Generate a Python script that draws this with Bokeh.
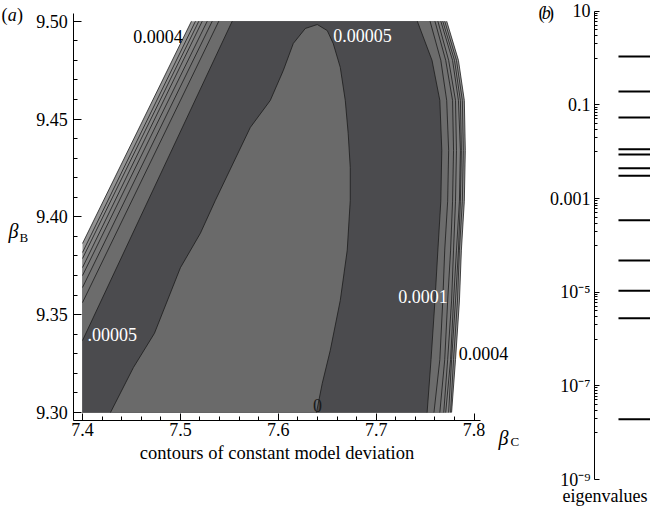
from bokeh.plotting import figure
from bokeh.models import (Range1d, FixedTicker, PrintfTickFormatter, CustomJSTickFormatter,
                          Label, LinearAxis, LogAxis, LogScale, Grid)
from bokeh.embed import file_html
from bokeh.resources import INLINE

FONT = "Liberation Serif"

# ---------------- data: panel (a) ----------------
X_MAJOR = [7.4, 7.5, 7.6, 7.7, 7.8]
Y_MAJOR = [9.30, 9.35, 9.40, 9.45, 9.50]
X_MINOR = [round(7.40 + 0.02 * i, 2) for i in range(21)]
Y_MINOR = [round(9.30 + 0.01 * i, 2) for i in range(21)]

DATA_X0 = 7.40
DATA_Y0 = 9.30
DATA_Y1 = 9.50

# left-hand contour lines (level 0 = boundary of dark band, 7 = outermost)
LEFT_EDGE_Y = [9.3368, 9.3562, 9.3639, 9.3700, 9.3741, 9.3787, 9.3818, 9.3864]
LEFT_TOP_X = [7.5529, 7.5392, 7.5325, 7.5274, 7.5223, 7.5188, 7.5154, 7.5113]

# right-hand contour lines, x at RIGHT_Y (bottom -> top)
RIGHT_Y = [9.300, 9.327, 9.357, 9.383, 9.408, 9.434, 9.4595, 9.480, 9.500]
R0 = [7.752, 7.756, 7.760, 7.763, 7.766, 7.767, 7.765, 7.757, 7.742]
R1 = [7.759, 7.765, 7.768, 7.770, 7.773, 7.774, 7.772, 7.766, 7.755]
R2 = [7.765, 7.770, 7.773, 7.776, 7.778, 7.779, 7.778, 7.771, 7.760]
R3 = [7.769, 7.773, 7.777, 7.779, 7.781, 7.782, 7.781, 7.774, 7.763]
R4 = [7.771, 7.776, 7.779, 7.782, 7.785, 7.786, 7.784, 7.778, 7.766]
R5 = [7.774, 7.777, 7.781, 7.784, 7.786, 7.787, 7.786, 7.780, 7.768]
R6 = [7.776, 7.779, 7.783, 7.785, 7.788, 7.789, 7.788, 7.782, 7.770]
R7 = [7.777, 7.781, 7.785, 7.787, 7.790, 7.791, 7.790, 7.784, 7.772]
RIGHT_X = [R0, R1, R2, R3, R4, R5, R6, R7]

# central (light) region boundary, the "0" contour
LIGHT_X = [7.4286, 7.4520, 7.4735, 7.5000, 7.5204, 7.5357, 7.5714, 7.5918, 7.6051,
           7.6153, 7.6276, 7.6398, 7.6500, 7.6561, 7.6633, 7.6684, 7.6714, 7.6735,
           7.6735, 7.6704, 7.6633, 7.6531, 7.6449, 7.6390]
LIGHT_Y = [9.3000, 9.3230, 9.3405, 9.3740, 9.3916, 9.4084, 9.4457, 9.4595, 9.4748,
           9.4886, 9.4963, 9.4983, 9.4952, 9.4886, 9.4764, 9.4595, 9.4426, 9.4252,
           9.4084, 9.3829, 9.3573, 9.3318, 9.3149, 9.3000]

LEVEL_COLORS = ["#4b4b4e", "#6c6c6c", "#727272", "#787878", "#7e7e7e", "#858585", "#8c8c8c", "#939393"]
LIGHT_COLOR = "#6a6a6a"

# contour labels: (text, x, y, colour, align)
CONTOUR_LABELS = [
    ("0.0004", 7.4771, 9.4922, "#000000", "center"),
    ("0.00005", 7.6860, 9.4927, "#ffffff", "center"),
    (".00005", 7.4051, 9.3399, "#ffffff", "left"),
    ("0.0001", 7.7478, 9.3593, "#ffffff", "center"),
    ("0.0004", 7.8096, 9.3302, "#000000", "center"),
    ("0", 7.6400, 9.3036, "#1a1a1a", "center"),
]

# ---------------- data: panel (b) ----------------
EIGEN = [1.08, 0.193, 0.0537, 0.0113, 0.0087, 0.00444, 0.00305,
         3.44e-4, 4.74e-5, 1.07e-5, 2.78e-6, 1.94e-8]
LOG_MAJOR = [10, 0.1, 1e-3, 1e-5, 1e-7, 1e-9]
LOG_EXPS = [1, -1, -3, -5, -7, -9]
LOG_LABELS = ["10", "0.1", "0.001", "10\u207b\u2075", "10\u207b\u2077", "10\u207b\u2079"]
LOG_MINOR = []
for e in [1, -1, -3, -5, -7]:
    LOG_MINOR += [d * 10.0 ** (e - 1) for d in range(1, 10)]

# ================= single canvas with both panels =================
p = figure(width=650, height=514, output_backend="svg", toolbar_location=None,
           x_range=Range1d(7.31624, 7.98018), y_range=Range1d(9.24787, 9.51058),
           x_axis_location=None, y_axis_location=None,
           extra_x_ranges={"bx": Range1d(-11.0, 1.037)},
           extra_y_ranges={"eig": Range1d(1.789e-10, 16.93)},
           extra_y_scales={"eig": LogScale()},
           min_border=0)
p.outline_line_color = None
p.background_fill_color = "white"
p.border_fill_color = "white"
p.center = [r for r in p.center if not isinstance(r, Grid)]

# ---- panel (a): filled contours ----
for k in reversed(range(len(RIGHT_X))):
    xs = [DATA_X0, DATA_X0, LEFT_TOP_X[k]] + RIGHT_X[k][::-1]
    ys = [DATA_Y0, LEFT_EDGE_Y[k], DATA_Y1] + RIGHT_Y[::-1]
    p.patch(xs, ys, fill_color=LEVEL_COLORS[k], line_color=None)

p.patch(LIGHT_X, LIGHT_Y, fill_color=LIGHT_COLOR, line_color=None)

LINE_C = "#1c1c1c"
p.multi_line(xs=[[DATA_X0, tx] for tx in LEFT_TOP_X], ys=[[ey, DATA_Y1] for ey in LEFT_EDGE_Y],
             line_color=LINE_C, line_width=0.8)
p.multi_line(xs=RIGHT_X, ys=[RIGHT_Y] * len(RIGHT_X), line_color=LINE_C, line_width=0.8)
p.line(LIGHT_X, LIGHT_Y, line_color=LINE_C, line_width=0.8)


def style_axis(ax, major_in, minor_in):
    ax.axis_line_color = "black"
    ax.axis_line_width = 1
    ax.major_tick_out = 0
    ax.minor_tick_out = 0
    ax.major_tick_in = major_in
    ax.minor_tick_in = minor_in
    ax.major_tick_line_color = "black"
    ax.minor_tick_line_color = "black"
    ax.major_label_text_font = FONT
    ax.major_label_text_font_size = "18px"
    ax.major_label_text_color = "black"


ax_x = LinearAxis(fixed_location=9.29591, bounds=(7.39081, 7.80654),
                  ticker=FixedTicker(ticks=X_MAJOR, minor_ticks=X_MINOR),
                  formatter=PrintfTickFormatter(format="%.1f"))
style_axis(ax_x, 7, 4)
ax_x.major_label_standoff = 2
ax_x.axis_label = "contours of constant model deviation"
ax_x.axis_label_text_font = FONT
ax_x.axis_label_text_font_size = "18.5px"
ax_x.axis_label_text_font_style = "normal"
ax_x.axis_label_text_color = "black"
ax_x.axis_label_standoff = 4
p.add_layout(ax_x, "below")

ax_y = LinearAxis(fixed_location=7.3911, bounds=(9.29591, 9.50378),
                  ticker=FixedTicker(ticks=Y_MAJOR, minor_ticks=Y_MINOR),
                  formatter=PrintfTickFormatter(format="%.2f"))
style_axis(ax_y, 8, 4)
ax_y.major_label_standoff = 6
p.add_layout(ax_y, "left")

# ---- panel (b): eigenvalue spectrum ----
p.segment(x0=0.444, x1=1.037, y0=EIGEN, y1=EIGEN, line_color="black", line_width=2,
          x_range_name="bx", y_range_name="eig")

ax_log = LogAxis(x_range_name="bx", y_range_name="eig", fixed_location=0.0, bounds=(1e-9, 10),
                 ticker=FixedTicker(ticks=LOG_MAJOR, minor_ticks=LOG_MINOR),
                 formatter=CustomJSTickFormatter(args=dict(exps=LOG_EXPS, labels=LOG_LABELS), code="""
const e = Math.round(Math.log10(tick));
const i = exps.indexOf(e);
return i >= 0 ? labels[i] : "";
"""))
style_axis(ax_log, 5, 3)
ax_log.major_label_standoff = 4
p.add_layout(ax_log, "left")

# ---- texts ----
for txt, x, y, col, al in CONTOUR_LABELS:
    p.add_layout(Label(x=x, y=y, text=txt, text_align=al, text_baseline="middle",
                       text_font=FONT, text_font_size="18px", text_color=col))


def lab(x, y, t, size="18px", style="italic", rx="default", ry="default"):
    p.add_layout(Label(x=x, y=y, text=t, text_align="left", text_baseline="middle",
                       text_font=FONT, text_font_size=size, text_font_style=style,
                       text_color="black", x_range_name=rx, y_range_name=ry))


lab(7.3244, 9.3930, "\u03b2", "20px")
lab(7.3356, 9.3893, "B", "13px", "normal")
lab(7.8249, 9.2872, "\u03b2", "20px")
lab(7.8372, 9.2850, "C", "13px", "normal")
lab(7.3173, 9.5034, "(", "18px", "normal")
lab(7.3236, 9.5034, "a", "18px", "italic")
lab(7.3330, 9.5034, ")", "18px", "normal")

lab(-1.037, 9.15, "(", "18px", "normal", "bx", "eig")
lab(-0.975, 9.15, "b", "18px", "italic", "bx", "eig")
lab(-0.86, 9.15, ")", "18px", "normal", "bx", "eig")
lab(-0.593, 4.55e-10, "eigenvalues", "18px", "normal", "bx", "eig")

open("out.html", "w").write(file_html(p, INLINE))
